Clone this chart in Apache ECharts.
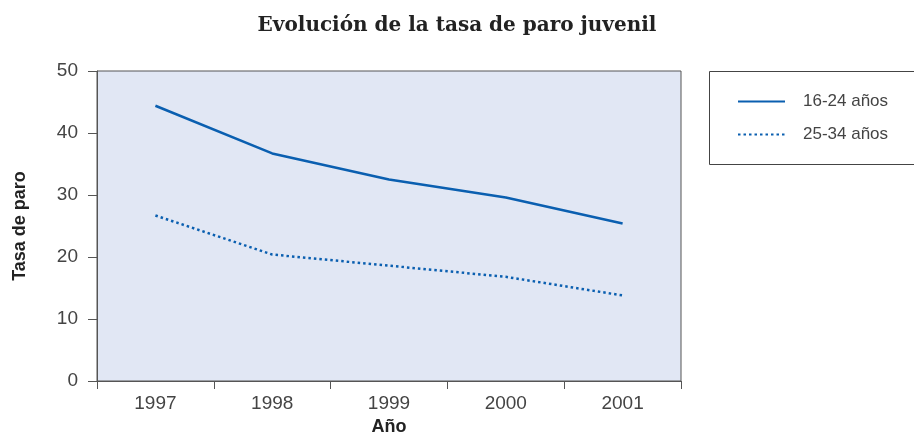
<!DOCTYPE html>
<html>
<head>
<meta charset="utf-8">
<script src="https://cdn.jsdelivr.net/npm/echarts@6/dist/echarts.min.js"></script>
<style>
  html, body { margin: 0; padding: 0; background: #fff; }
  #chart { width: 914px; height: 443px; }
</style>
</head>
<body>
<div id="chart"></div>
<script>
// datos
var years = ['1997', '1998', '1999', '2000', '2001'];
var tasa1624 = [44.4, 36.7, 32.5, 29.6, 25.4];
var tasa2534 = [26.7, 20.4, 18.6, 16.8, 13.8];
var yTicks = [0, 10, 20, 30, 40, 50];

var lineColor = '#0a5fb0';
var axisColor = '#555';

var myChart = echarts.init(document.getElementById('chart'));
myChart.setOption({
  animation: false,
  title: {
    text: 'Evolución de la tasa de paro juvenil',
    left: 'center',
    top: 11,
    textStyle: {
      fontFamily: 'DejaVu Serif',
      fontWeight: 'bold',
      fontSize: 20,
      color: '#222'
    }
  },
  // marco de la leyenda
  graphic: [{
    type: 'rect',
    left: 709,
    top: 71,
    shape: { width: 220, height: 93 },
    style: { fill: '#fff', stroke: '#444', lineWidth: 1 }
  }],
  legend: {
    orient: 'vertical',
    left: 737,
    top: 93,
    padding: 0,
    itemWidth: 47,
    itemHeight: 12,
    itemGap: 16,
    itemStyle: { opacity: 0 },
    textStyle: { fontFamily: 'Liberation Sans', fontSize: 17, color: '#444', padding: [0, 0, 0, 13] },
    data: ['16-24 años', '25-34 años']
  },
  grid: {
    left: 97,
    right: 233,
    top: 71,
    bottom: 62,
    show: true,
    backgroundColor: '#e1e7f4',
    borderColor: axisColor,
    borderWidth: 1
  },
  xAxis: {
    type: 'category',
    data: years,
    boundaryGap: true,
    name: 'Año',
    nameLocation: 'middle',
    nameGap: 32,
    nameTextStyle: { fontFamily: 'Liberation Sans', fontWeight: 'bold', fontSize: 18, color: '#222' },
    axisLine: { lineStyle: { color: axisColor, width: 1 } },
    axisTick: { show: true, length: 8, lineStyle: { color: axisColor } },
    axisLabel: { margin: 13, fontFamily: 'Liberation Sans', fontSize: 19, color: '#444' }
  },
  yAxis: {
    type: 'value',
    min: yTicks[0],
    max: yTicks[yTicks.length - 1],
    interval: 10,
    name: 'Tasa de paro',
    nameLocation: 'middle',
    nameGap: 68,
    nameTextStyle: { fontFamily: 'Liberation Sans', fontWeight: 'bold', fontSize: 18, color: '#222' },
    axisLine: { show: true, lineStyle: { color: axisColor, width: 1 } },
    axisTick: { show: true, length: 9, lineStyle: { color: axisColor } },
    axisLabel: { margin: 19, fontFamily: 'Liberation Sans', fontSize: 19, color: '#444' },
    splitLine: { show: false }
  },
  series: [
    {
      name: '16-24 años',
      type: 'line',
      data: tasa1624,
      symbol: 'none',
      color: lineColor,
      lineStyle: { color: lineColor, width: 2.5, type: 'solid' }
    },
    {
      name: '25-34 años',
      type: 'line',
      data: tasa2534,
      symbol: 'none',
      color: lineColor,
      lineStyle: { color: lineColor, width: 2.5, type: [2.5, 3] }
    }
  ]
});
</script>
</body>
</html>
